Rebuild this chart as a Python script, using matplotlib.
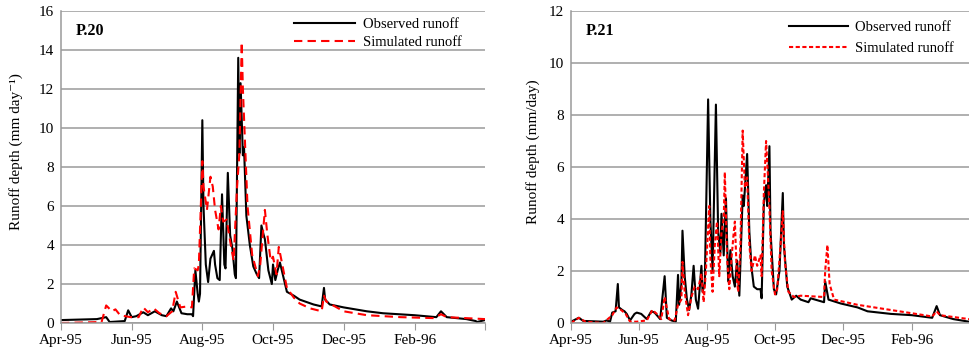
import numpy as np
import matplotlib
matplotlib.use("Agg")
import matplotlib.pyplot as plt

plt.rcParams['font.family'] = ['Liberation Serif', 'DejaVu Serif']

START = np.datetime64('1995-04-01')

# P.20 - days after 1 Apr 1995, runoff (mm/day)
p20_obs_day = [0, 31, 39, 42, 55, 58, 61, 65, 71, 75, 81, 87, 91, 95, 97, 100, 104, 109, 113, 114,
               116, 118, 119, 120, 122, 123, 125, 127, 129, 132, 133, 135, 137, 139, 141, 142, 144,
               146, 148, 150, 151, 153, 154, 155, 157, 158, 160, 163, 166, 169, 171, 173, 175, 176,
               179, 182, 183, 185, 187, 189, 191, 195, 201, 206, 218, 225, 227, 228, 232, 244, 264,
               278, 305, 324, 328, 333, 350, 358, 359, 366]
p20_obs = [0.15, 0.2, 0.3, 0.05, 0.1, 0.65, 0.3, 0.35, 0.55, 0.4, 0.6, 0.4, 0.35, 0.75, 0.6, 1.1,
           0.5, 0.45, 0.45, 0.35, 2.7, 1.5, 1.1, 1.5, 10.4, 6.0, 3.0, 2.1, 3.3, 3.7, 3.0, 2.3, 2.2,
           6.6, 3.0, 2.8, 7.7, 4.5, 3.8, 2.5, 2.3, 13.6, 8.7, 12.3, 8.6, 9.0, 5.5, 4.0, 2.9, 2.5,
           2.3, 5.0, 4.5, 4.3, 2.7, 2.0, 3.0, 2.2, 2.7, 3.1, 2.6, 1.6, 1.4, 1.2, 0.95, 0.85, 1.8,
           1.2, 0.95, 0.8, 0.6, 0.5, 0.4, 0.3, 0.6, 0.3, 0.2, 0.1, 0.05, 0.15]
p20_sim_day = [0, 35, 39, 44, 47, 51, 60, 67, 71, 75, 80, 85, 91, 96, 99, 103, 109, 113, 115, 118,
               119, 122, 123, 126, 129, 131, 133, 136, 138, 140, 143, 146, 149, 152, 154, 156, 157,
               159, 161, 165, 170, 172, 176, 178, 181, 183, 186, 188, 191, 195, 201, 206, 215, 225,
               227, 229, 235, 244, 264, 293, 322, 328, 333, 366]
p20_sim = [0.0, 0.05, 0.9, 0.6, 0.7, 0.4, 0.3, 0.3, 0.8, 0.55, 0.75, 0.5, 0.35, 0.6, 1.6, 0.8,
           0.85, 0.8, 2.8, 2.7, 3.0, 8.3, 7.0, 5.8, 7.5, 7.0, 5.8, 4.8, 6.0, 5.2, 5.3, 4.2, 3.2,
           7.0, 8.7, 14.4, 12.0, 9.0, 6.0, 3.5, 2.4, 3.0, 5.8, 4.6, 3.2, 3.4, 2.5, 3.9, 3.0, 1.8,
           1.3, 1.0, 0.75, 0.6, 1.4, 1.1, 0.9, 0.6, 0.4, 0.3, 0.25, 0.45, 0.3, 0.2]

# P.21
p21_obs_day = [0, 7, 11, 29, 32, 35, 37, 40, 42, 43, 46, 48, 50, 53, 57, 59, 63, 68, 72, 75, 80,
               84, 86, 90, 94, 96, 97, 99, 100, 102, 104, 106, 108, 110, 112, 114, 117, 118, 120,
               123, 125, 127, 130, 132, 134, 135, 137, 139, 141, 143, 145, 147, 149, 151, 154, 155,
               158, 160, 162, 164, 167, 170, 171, 173, 175, 176, 178, 179, 182, 184, 187, 190, 191,
               194, 198, 202, 206, 213, 215, 227, 228, 231, 242, 257, 266, 287, 306, 324, 328, 331,
               343, 357, 366]
p21_obs = [0.05, 0.2, 0.08, 0.05, 0.1, 0.05, 0.4, 0.45, 1.5, 0.6, 0.5, 0.45, 0.35, 0.1, 0.35, 0.4,
           0.35, 0.15, 0.45, 0.4, 0.15, 1.8, 0.2, 0.1, 0.05, 1.85, 0.7, 1.5, 3.55, 1.8, 0.9, 0.5,
           1.1, 2.2, 0.9, 0.55, 2.2, 1.2, 1.5, 8.6, 4.0, 2.0, 8.4, 3.5, 2.7, 4.2, 2.6, 4.8, 1.6,
           2.8, 1.8, 1.4, 2.4, 1.05, 4.9, 4.5, 6.5, 3.5, 2.1, 1.4, 1.3, 1.3, 0.95, 4.6, 5.3, 4.5,
           6.8, 3.5, 1.3, 1.1, 2.0, 5.0, 3.0, 1.4, 0.9, 1.05, 0.9, 0.8, 0.95, 0.8, 1.6, 0.9, 0.75,
           0.6, 0.45, 0.35, 0.3, 0.2, 0.65, 0.3, 0.15, 0.05, 0.05]
p21_sim_day = [0, 7, 13, 29, 37, 41, 45, 49, 53, 59, 68, 73, 77, 81, 84, 88, 93, 96, 99, 100, 102,
               105, 108, 111, 114, 117, 119, 121, 124, 125, 127, 129, 131, 133, 135, 137, 138, 140,
               142, 144, 146, 147, 149, 150, 152, 154, 156, 158, 160, 162, 164, 165, 167, 170, 171,
               173, 175, 177, 178, 180, 183, 185, 188, 190, 192, 195, 200, 206, 227, 228, 230, 232,
               236, 257, 287, 317, 324, 328, 331, 357, 366]
p21_sim = [0.0, 0.2, 0.05, 0.0, 0.3, 0.6, 0.5, 0.35, 0.05, 0.05, 0.1, 0.5, 0.35, 0.15, 1.0, 0.15,
           0.1, 0.7, 0.9, 2.35, 1.2, 0.3, 1.0, 1.4, 1.3, 1.9, 0.8, 2.0, 4.5, 2.5, 1.2, 3.0, 3.9,
           1.8, 3.5, 4.0, 5.8, 2.5, 1.3, 2.5, 3.5, 3.9, 1.6, 1.2, 3.0, 7.4, 5.2, 5.6, 3.0, 2.0,
           2.4, 2.6, 2.2, 2.6, 1.8, 5.0, 7.0, 5.4, 4.4, 2.0, 1.1, 1.3, 3.0, 4.3, 2.3, 1.2, 1.0,
           1.05, 1.0, 2.0, 3.0, 1.5, 0.9, 0.7, 0.5, 0.3, 0.25, 0.45, 0.3, 0.15, 0.15]


def to_dates(days):
    return (START + np.array(days).astype('timedelta64[D]')).astype('datetime64[D]')


fig = plt.figure(figsize=(9.69, 3.55), dpi=100)
fig.patch.set_facecolor('white')

grid_c = '#9a9a9a'
ticks = [np.datetime64(f'{y}-{m:02d}-01') for y, m in
         [(1995, 4), (1995, 6), (1995, 8), (1995, 10), (1995, 12), (1996, 2), (1996, 4)]]
tick_labels = ['Apr-95', 'Jun-95', 'Aug-95', 'Oct-95', 'Dec-95', 'Feb-96', '']


def setup(ax, ymax, ylabel, tag):
    ax.set_xlim(np.datetime64('1995-04-01'), np.datetime64('1996-04-01'))
    ax.set_ylim(0, ymax)
    ax.set_yticks(np.arange(0, ymax + 1, 2))
    ax.yaxis.grid(True, color=grid_c, lw=1.1)
    ax.set_axisbelow(True)
    ax.set_xticks(ticks)
    ax.set_xticklabels(tick_labels)
    for s in ['top', 'right']:
        ax.spines[s].set_visible(False)
    for s in ['left', 'bottom']:
        ax.spines[s].set_color(grid_c)
        ax.spines[s].set_linewidth(1.1)
    ax.tick_params(axis='x', direction='out', length=5, color=grid_c, labelsize=11, pad=3)
    ax.tick_params(axis='y', length=0, labelsize=11, pad=5)
    ax.set_ylabel(ylabel, fontsize=11)
    ax.text(0.035, 0.935, tag, transform=ax.transAxes, fontsize=11.5, fontweight='bold',
            ha='left', va='center')


ax1 = fig.add_axes([61 / 969, 1 - 323 / 355, 424 / 969, 312 / 355])
ax1.plot(to_dates(p20_obs_day), p20_obs, color='black', lw=1.5, label='Observed runoff')
ax1.plot(to_dates(p20_sim_day), p20_sim, color='red', lw=1.5, ls=(0, (4, 2.5)),
         label='Simulated runoff')
setup(ax1, 16, 'Runoff depth (mm day\u207b\u00b9)', 'P.20')
ax1.yaxis.set_label_coords(-0.09, 0.55)
ax1.legend(loc='upper right', bbox_to_anchor=(0.975, 1.02), frameon=False, fontsize=10.5,
           handlelength=4.2, handletextpad=0.5, labelspacing=0.3)

ax2 = fig.add_axes([571 / 969, 1 - 323 / 355, 408 / 969, 312 / 355])
ax2.plot(to_dates(p21_obs_day), p21_obs, color='black', lw=1.5, label='Observed runoff')
ax2.plot(to_dates(p21_sim_day), p21_sim, color='red', lw=1.5, ls=(0, (2, 1.2)),
         label='Simulated runoff')
setup(ax2, 12, 'Runoff depth (mm/day)', 'P.21')
ax2.yaxis.set_label_coords(-0.076, 0.55)
ax2.legend(loc='upper right', bbox_to_anchor=(0.97, 1.01), frameon=False, fontsize=10.5,
           handlelength=4.0, handletextpad=0.5, labelspacing=0.5)

fig.savefig('out.png', dpi=100)
